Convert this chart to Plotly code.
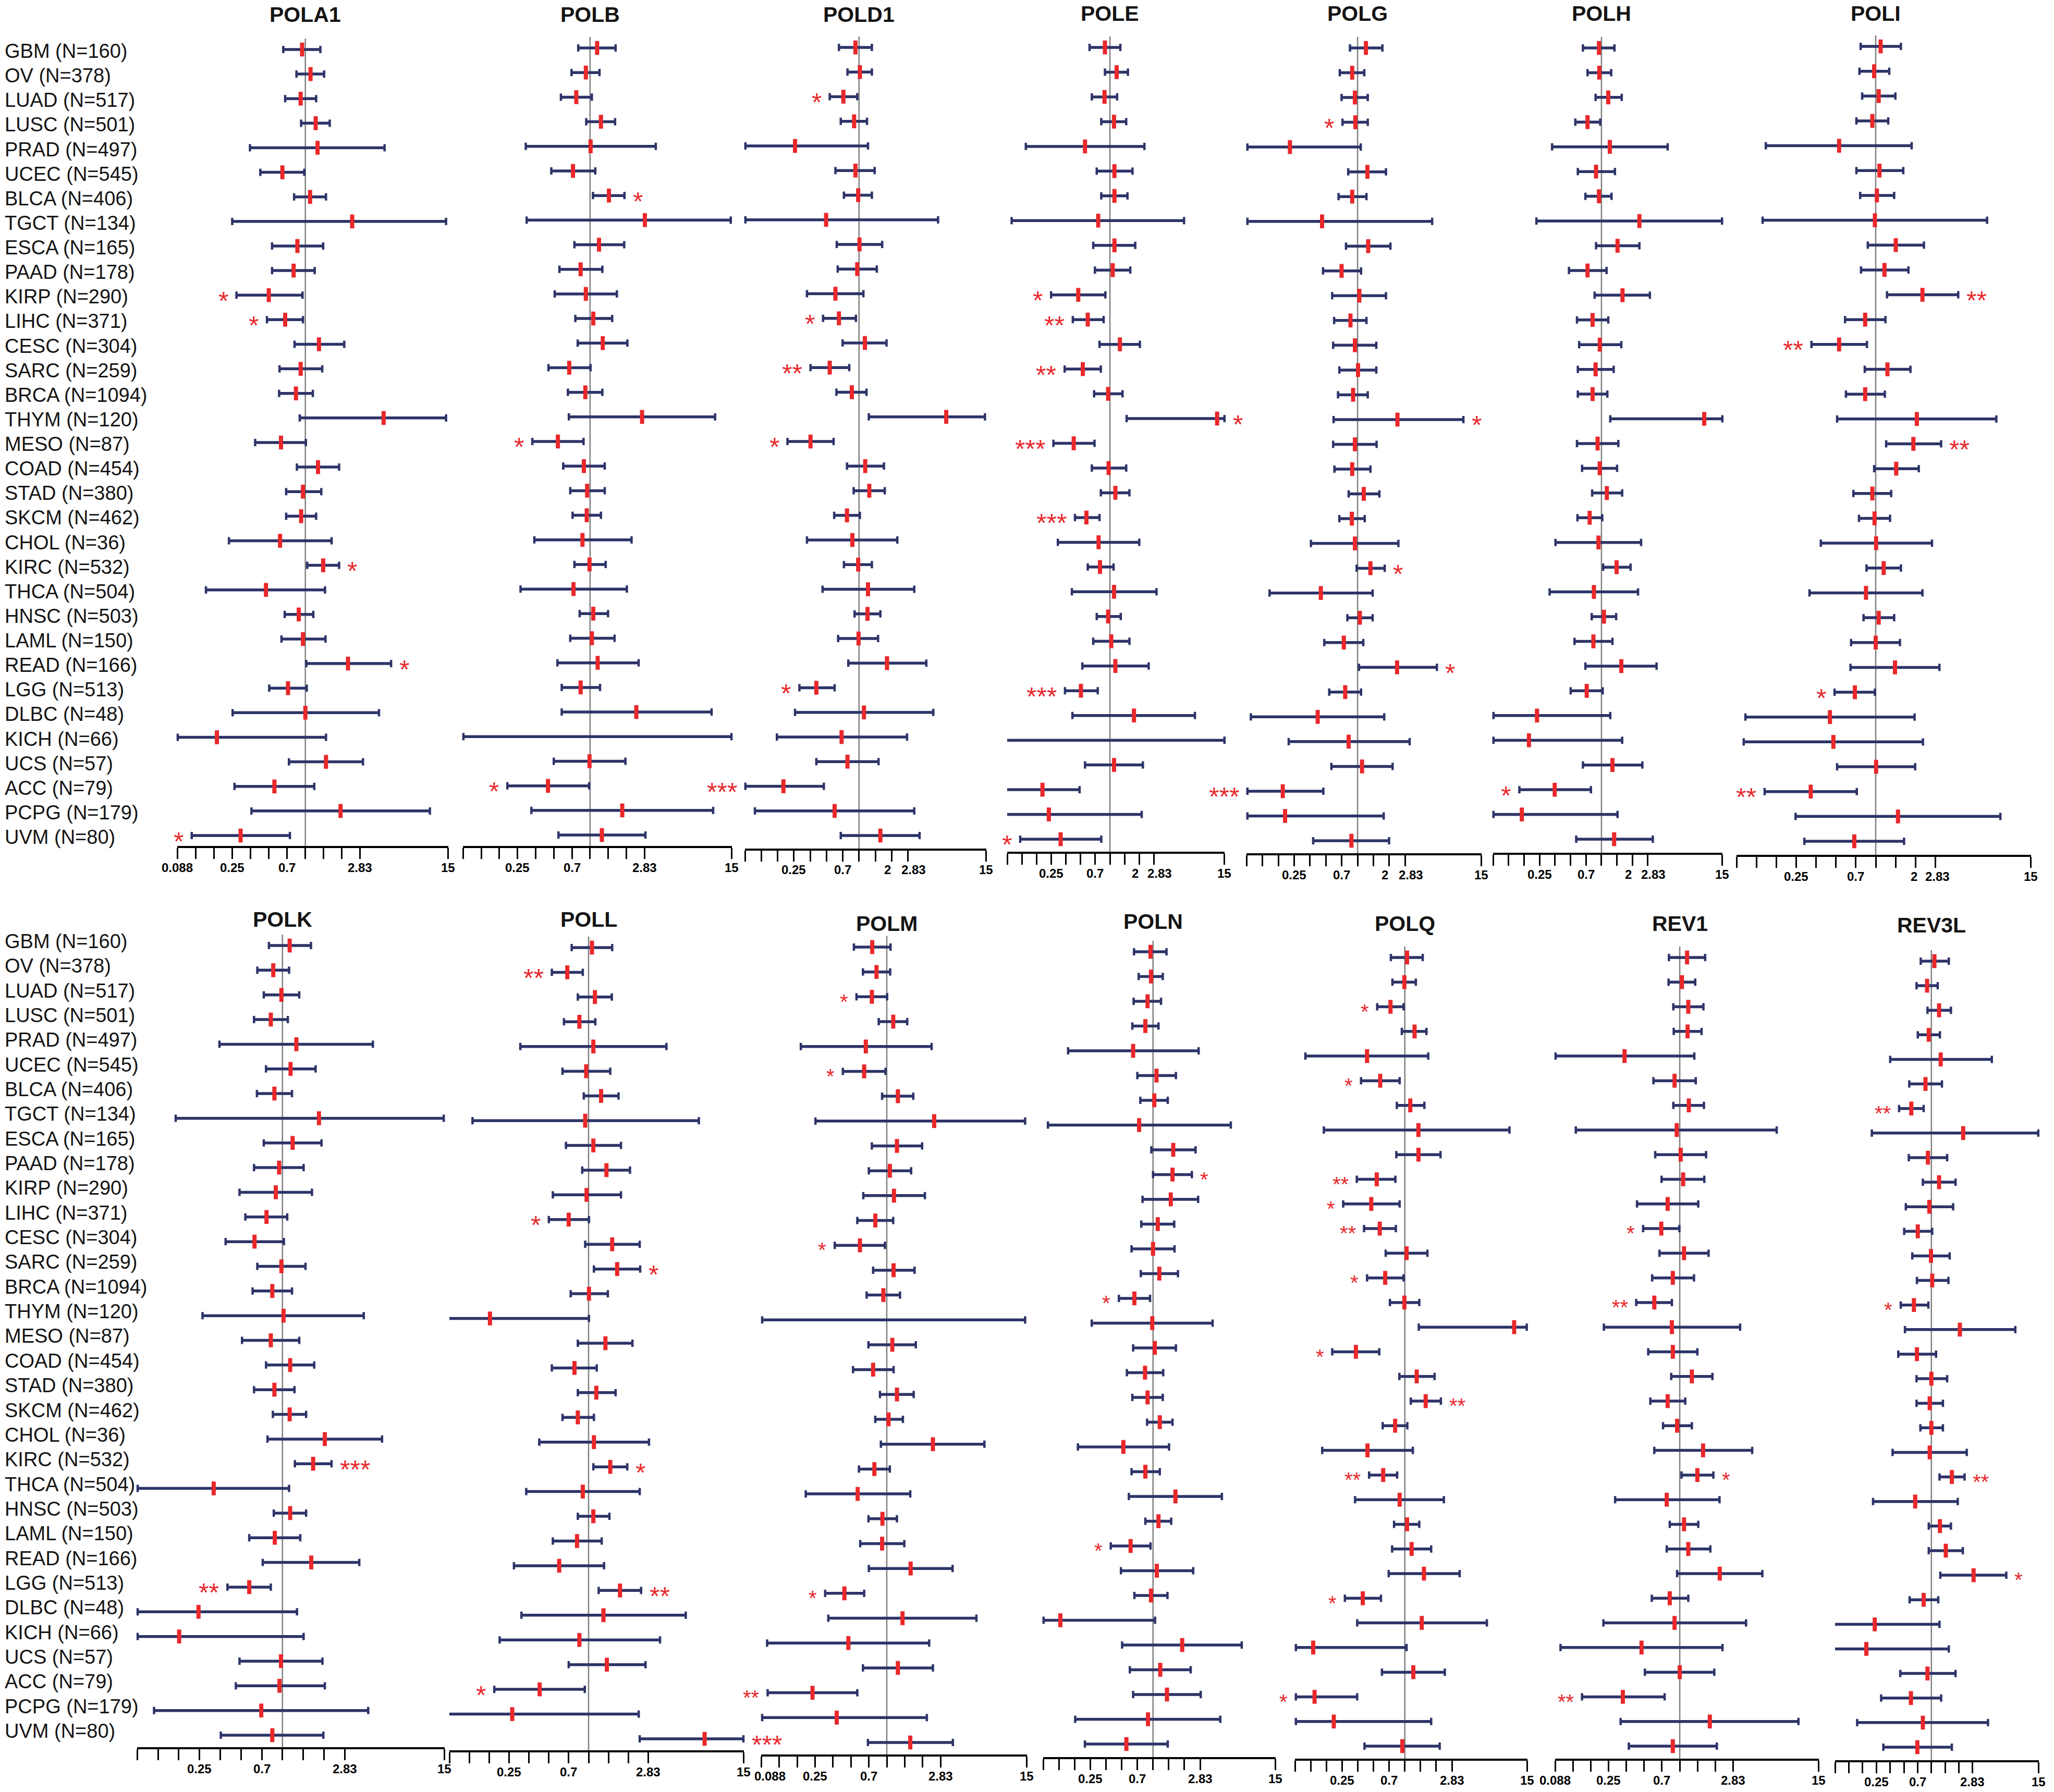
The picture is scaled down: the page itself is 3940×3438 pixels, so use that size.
import math
import plotly.graph_objects as go

# ---- data -------------------------------------------------------------
cancers = ["GBM", "OV", "LUAD", "LUSC", "PRAD", "UCEC", "BLCA", "TGCT", "ESCA", "PAAD", "KIRP",
           "LIHC", "CESC", "SARC", "BRCA", "THYM", "MESO", "COAD", "STAD", "SKCM", "CHOL", "KIRC",
           "THCA", "HNSC", "LAML", "READ", "LGG", "DLBC", "KICH", "UCS", "ACC", "PCPG", "UVM"]
n_patients = [160, 378, 517, 501, 497, 545, 406, 134, 165, 178, 290,
              371, 304, 259, 1094, 120, 87, 454, 380, 462, 36, 532,
              504, 503, 150, 166, 513, 48, 66, 57, 79, 179, 80]

pola1_lo = [0.658, 0.845, 0.682, 0.923, 0.350, 0.426, 0.808, 0.250, 0.532, 0.532, 0.271,
            0.483, 0.815, 0.613, 0.608, 0.899, 0.386, 0.852, 0.695, 0.695, 0.235, 1.036,
            0.152, 0.676, 0.636, 1.018, 0.504, 0.252, 0.089, 0.733, 0.261, 0.360, 0.116]
pola1_hr = [0.940, 1.103, 0.915, 1.216, 1.260, 0.647, 1.093, 2.43, 0.860, 0.801, 0.500,
            0.682, 1.294, 0.915, 0.837, 4.41, 0.630, 1.271, 0.956, 0.923, 0.619, 1.402,
            0.474, 0.883, 0.956, 2.245, 0.720, 1.000, 0.187, 1.479, 0.556, 1.948, 0.293]
pola1_hi = [1.329, 1.427, 1.227, 1.587, 4.49, 0.980, 1.479, 14.4, 1.402, 1.194, 0.948,
            0.956, 2.091, 1.377, 1.153, 14.4, 1.010, 1.896, 1.353, 1.227, 1.645, 1.896,
            1.452, 1.163, 1.465, 5.08, 1.027, 4.04, 1.479, 2.98, 1.184, 10.6, 0.746]
pola1_sig = {"KIRP": "*", "LIHC": "*", "KIRC": "*", "READ": "*", "UVM": "*"}

polb_lo = [0.798, 0.702, 0.573, 0.930, 0.293, 0.477, 1.057, 0.298, 0.742, 0.557, 0.509,
           0.755, 0.790, 0.452, 0.655, 0.667, 0.332, 0.599, 0.685, 0.716, 0.345, 0.742,
           0.265, 0.820, 0.685, 0.536, 0.582, 0.582, 0.089, 0.500, 0.206, 0.326, 0.547]
polb_hr = [1.145, 0.923, 0.769, 1.231, 1.010, 0.722, 1.434, 2.85, 1.186, 0.835, 0.923,
           1.064, 1.275, 0.672, 0.914, 2.70, 0.541, 0.889, 0.946, 0.939, 0.865, 0.990,
           0.729, 1.064, 1.035, 1.157, 0.835, 2.42, None, 0.990, 0.448, 1.85, 1.253]
polb_hi = [1.63, 1.198, 1.035, 1.613, 3.51, 1.105, 1.93, 14.7, 1.92, 1.265, 1.67,
           1.526, 2.04, 1.010, 1.265, 10.9, 0.883, 1.324, 1.324, 1.231, 2.21, 1.347,
           2.02, 1.41, 1.597, 2.53, 1.21, 10.2, 14.9, 1.965, 0.983, 10.5, 2.88]
polb_sig = {"BLCA": "*", "MESO": "*", "ACC": "*"}

pold1_lo = [0.652, 0.782, 0.536, 0.678, 0.089, 0.605, 0.725, 0.089, 0.622, 0.635, 0.330,
            0.465, 0.705, 0.356, 0.618, 1.231, 0.218, 0.774, 0.892, 0.589, 0.330, 0.725,
            0.460, 0.910, 0.641, 0.796, 0.281, 0.256, 0.174, 0.403, 0.089, 0.109, 0.678]
pold1_hr = [0.927, 1.018, 0.717, 0.901, 0.256, 0.927, 0.982, 0.496, 1.010, 0.963, 0.605,
            0.652, 1.133, 0.536, 0.858, 6.4, 0.356, 1.141, 1.244, 0.774, 0.868, 0.982,
            1.21, 1.198, 0.990, 1.815, 0.403, 1.11, 0.690, 0.782, 0.200, 0.595, 1.575]
pold1_hi = [1.315, 1.315, 0.963, 1.185, 1.21, 1.395, 1.315, 5.38, 1.637, 1.46, 1.098,
            0.936, 1.796, 0.812, 1.173, 14.6, 0.582, 1.70, 1.73, 1.018, 2.26, 1.315,
            3.24, 1.575, 1.50, 4.19, 0.595, 4.86, 2.78, 1.515, 0.473, 3.24, 3.63]
pold1_sig = {"LUAD": "*", "LIHC": "*", "SARC": "**", "MESO": "*", "LGG": "*", "ACC": "***"}

pole_lo = [0.618, 0.889, 0.652, 0.815, 0.137, 0.732, 0.815, 0.098, 0.674, 0.702, 0.249,
           0.416, 0.782, 0.343, 0.688, 1.485, 0.263, 0.652, 0.807, 0.438, 0.292, 0.592,
           0.407, 0.732, 0.674, 0.521, 0.346, 0.412, 0.088, 0.555, 0.088, 0.088, 0.120]
pole_hr = [0.889, 1.173, 0.880, 1.102, 0.555, 1.113, 1.113, 0.758, 1.113, 1.068, 0.473,
           0.592, 1.266, 0.527, 0.959, 12.6, 0.425, 0.969, 1.137, 0.574, 0.765, 0.790,
           1.102, 0.959, 1.032, 1.137, 0.504, 1.765, None, 1.102, 0.203, 0.236, 0.312]
pole_hi = [1.279, 1.53, 1.185, 1.47, 2.26, 1.706, 1.515, 5.77, 1.82, 1.618, 0.898,
           0.862, 2.03, 0.807, 1.347, 15.0, 0.695, 1.47, 1.586, 0.782, 2.00, 1.09,
           3.01, 1.292, 1.586, 2.50, 0.750, 7.46, 15.0, 2.18, 0.488, 2.12, 0.815]
pole_sig = {"KIRP": "*", "LIHC": "**", "SARC": "**", "THYM": "*", "MESO": "***",
            "SKCM": "***", "LGG": "***", "ACC": "***", "UVM": "*"}

polg_lo = [0.847, 0.678, 0.705, 0.719, 0.090, 0.815, 0.660, 0.090, 0.776, 0.470, 0.574,
           0.599, 0.586, 0.671, 0.652, 0.592, 0.586, 0.603, 0.823, 0.671, 0.361, 0.980,
           0.146, 0.800, 0.483, 1.030, 0.538, 0.097, 0.222, 0.564, 0.090, 0.090, 0.379]
polg_hr = [1.20, 0.889, 0.943, 0.952, 0.228, 1.24, 0.889, 0.460, 1.261, 0.705, 1.039,
           0.856, 0.943, 1.010, 0.907, 2.39, 0.943, 0.889, 1.145, 0.882, 0.943, 1.324,
           0.448, 1.050, 0.740, 2.37, 0.763, 0.418, 0.823, 1.102, 0.195, 0.205, 0.874]
polg_hi = [1.72, 1.157, 1.249, 1.249, 1.072, 1.86, 1.214, 5.1, 2.05, 1.079, 1.86,
           1.214, 1.505, 1.505, 1.249, 10.1, 1.515, 1.324, 1.61, 1.169, 2.44, 1.81,
           1.39, 1.39, 1.133, 5.66, 1.079, 1.79, 3.12, 2.15, 0.473, 1.77, 1.99]
polg_sig = {"LUSC": "*", "THYM": "*", "KIRC": "*", "READ": "*", "ACC": "***"}

polh_lo = [0.660, 0.732, 0.877, 0.557, 0.331, 0.589, 0.698, 0.233, 0.886, 0.483, 0.858,
           0.578, 0.607, 0.589, 0.589, 1.218, 0.578, 0.648, 0.812, 0.584, 0.357, 1.039,
           0.313, 0.804, 0.547, 0.698, 0.502, 0.089, 0.089, 0.660, 0.159, 0.089, 0.568]
polh_hr = [0.946, 0.952, 1.165, 0.732, 1.206, 0.886, 0.946, 2.34, 1.434, 0.732, 1.602,
           0.820, 0.963, 0.877, 0.820, 10.0, 0.917, 0.963, 1.128, 0.768, 0.936, 1.404,
           0.844, 1.057, 0.835, 1.56, 0.719, 0.236, 0.197, 1.279, 0.351, 0.168, 1.328]
polh_hi = [1.338, 1.244, 1.575, 0.973, 4.41, 1.352, 1.253, 14.9, 2.34, 1.121, 2.96,
           1.165, 1.56, 1.315, 1.141, 15.0, 1.46, 1.419, 1.59, 1.018, 2.43, 1.92,
           2.27, 1.39, 1.279, 3.44, 1.028, 1.218, 1.59, 2.50, 0.790, 1.434, 3.16]
polh_sig = {"ACC": "*"}

poli_lo = [0.769, 0.753, 0.790, 0.714, 0.147, 0.714, 0.763, 0.139, 0.871, 0.774, 1.218,
           0.586, 0.326, 0.826, 0.595, 0.510, 1.200, 0.973, 0.678, 0.747, 0.384, 0.852,
           0.315, 0.809, 0.651, 0.644, 0.488, 0.103, 0.100, 0.510, 0.144, 0.247, 0.288]
poli_hr = [1.090, 0.973, 1.053, 0.943, 0.528, 1.068, 1.021, 0.986, 1.419, 1.165, 2.26,
           0.832, 0.528, 1.227, 0.832, 2.05, 1.93, 1.43, 0.943, 0.980, 1.007, 1.149,
           0.844, 1.053, 1.000, 1.40, 0.695, 0.450, 0.478, 1.007, 0.322, 1.475, 0.688]
poli_hi = [1.552, 1.266, 1.41, 1.244, 1.873, 1.618, 1.38, 6.98, 2.32, 1.77, 4.22,
           1.185, 0.858, 1.834, 1.173, 8.2, 3.13, 2.12, 1.31, 1.284, 2.67, 1.552,
           2.26, 1.38, 1.526, 3.04, 0.986, 1.97, 2.28, 1.99, 0.719, 8.8, 1.64]
poli_sig = {"KIRP": "**", "CESC": "**", "MESO": "**", "LGG": "*", "ACC": "**"}

polk_lo = [0.798, 0.657, 0.732, 0.622, 0.349, 0.760, 0.653, 0.168, 0.732, 0.622, 0.488,
           0.538, 0.387, 0.657, 0.607, 0.263, 0.509, 0.760, 0.622, 0.852, 0.779, 1.231,
           0.089, 0.865, 0.574, 0.719, 0.399, 0.089, 0.089, 0.488, 0.459, 0.117, 0.357]
polk_hr = [1.128, 0.858, 0.983, 0.823, 1.261, 1.145, 0.874, 1.84, 1.185, 0.946, 0.895,
           0.766, 0.627, 0.983, 0.844, 1.018, 0.823, 1.137, 0.874, 1.128, 2.03, 1.67,
           0.317, 1.137, 0.880, 1.618, 0.574, 0.246, 0.178, 0.976, 0.952, 0.702, 0.844]
polk_hi = [1.61, 1.117, 1.324, 1.094, 4.53, 1.74, 1.173, 14.8, 1.92, 1.424, 1.637,
           1.083, 1.025, 1.47, 1.173, 3.89, 1.324, 1.70, 1.223, 1.485, 5.28, 2.27,
           1.117, 1.485, 1.347, 3.61, 0.823, 1.275, 1.424, 1.95, 2.03, 4.19, 1.98]
polk_sig = {"KIRC": "***", "LGG": "**"}

poll_lo = [0.745, 0.527, 0.829, 0.651, 0.304, 0.635, 0.920, 0.132, 0.674, 0.895, 0.536,
           0.500, 0.943, 1.098, 0.732, 0.088, 0.829, 0.527, 0.829, 0.635, 0.423, 1.087,
           0.337, 0.829, 0.536, 0.272, 1.193, 0.310, 0.212, 0.707, 0.193, 0.088, 2.44]
poll_hr = [1.061, 0.690, 1.117, 0.852, 1.087, 0.959, 1.244, 0.943, 1.087, 1.366, 0.966,
           0.707, 1.51, 1.647, 1.007, 0.179, 1.342, 0.782, 1.145, 0.829, 1.098, 1.46,
           0.904, 1.087, 0.818, 0.599, 1.73, 1.297, 0.852, 1.376, 0.426, 0.264, 7.57]
poll_hi = [1.51, 0.904, 1.50, 1.125, 3.89, 1.46, 1.687, 6.85, 1.76, 2.06, 1.76,
           1.007, 2.44, 2.46, 1.40, 1.007, 2.15, 1.153, 1.602, 1.098, 2.87, 1.965,
           2.44, 1.439, 1.257, 1.31, 2.50, 5.45, 3.48, 2.70, 0.936, 2.40, 14.9]
poll_sig = {"OV": "**", "LIHC": "*", "SARC": "*", "KIRC": "*", "LGG": "**", "ACC": "*", "UVM": "***"}

polm_lo = [0.530, 0.631, 0.557, 0.856, 0.190, 0.428, 0.914, 0.252, 0.750, 0.707, 0.635,
           0.566, 0.366, 0.768, 0.678, 0.090, 0.702, 0.521, 0.877, 0.801, 0.892, 0.584,
           0.209, 0.702, 0.599, 0.707, 0.304, 0.323, 0.099, 0.631, 0.100, 0.090, 0.695]
polm_hr = [0.755, 0.820, 0.750, 1.133, 0.667, 0.646, 1.24, 2.50, 1.218, 1.061, 1.149,
           0.801, 0.595, 1.141, 0.936, None, 1.113, 0.768, 1.218, 1.035, 2.44, 0.787,
           0.570, 0.920, 0.914, 1.586, 0.441, 1.356, 0.476, 1.24, 0.238, 0.380, 1.575]
polm_hi = [1.076, 1.068, 1.007, 1.485, 2.38, 0.976, 1.67, 14.5, 1.98, 1.602, 2.09,
           1.133, 0.966, 1.712, 1.292, 14.5, 1.754, 1.141, 1.682, 1.366, 6.6, 1.061,
           1.575, 1.218, 1.404, 3.57, 0.646, 5.66, 2.27, 2.44, 0.566, 2.17, 3.59]
polm_sig = {"LUAD": "*", "UCEC": "*", "CESC": "*", "LGG": "*", "ACC": "**"}

poln_lo = [0.657, 0.728, 0.651, 0.633, 0.153, 0.707, 0.755, 0.098, 0.963, 1.000, 0.793,
           0.771, 0.622, 0.763, 0.470, 0.258, 0.644, 0.561, 0.633, 0.877, 0.190, 0.622,
           0.586, 0.844, 0.393, 0.492, 0.662, 0.089, 0.505, 0.599, 0.644, 0.179, 0.222]
poln_hr = [0.946, 0.956, 0.886, 0.844, 0.644, 1.079, 1.028, 0.735, 1.563, 1.538, 1.48,
           1.11, 1.000, 1.149, 0.662, 0.983, 1.039, 0.838, 0.886, 1.161, 0.519, 0.844,
           1.642, 1.128, 0.609, 1.087, 0.956, 0.129, 1.905, 1.173, 1.361, 0.895, 0.555]
poln_hi = [1.347, 1.24, 1.193, 1.128, 2.74, 1.658, 1.385, 5.58, 2.56, 2.36, 2.71,
           1.597, 1.608, 1.735, 0.936, 3.73, 1.658, 1.253, 1.24, 1.538, 1.424, 1.161,
           4.58, 1.495, 0.946, 2.43, 1.376, 1.046, 7.1, 2.30, 2.87, 4.42, 1.385]
poln_sig = {"PAAD": "*", "BRCA": "*", "LAML": "*"}

polq_lo = [0.735, 0.760, 0.543, 0.936, 0.111, 0.380, 0.838, 0.167, 0.829, 0.346, 0.256,
           0.406, 0.655, 0.434, 0.719, 1.361, 0.201, 0.886, 1.141, 0.613, 0.161, 0.454,
           0.333, 0.788, 0.755, 0.700, 0.266, 0.349, 0.090, 0.603, 0.090, 0.090, 0.410]
polq_hr = [1.050, 0.990, 0.728, 1.24, 0.434, 0.580, 1.128, 1.35, 1.352, 0.538, 0.476,
           0.574, 1.039, 0.648, 0.990, 11.2, 0.339, 1.301, 1.586, 0.807, 0.438, 0.620,
           0.892, 1.050, 1.161, 1.526, 0.395, 1.454, 0.132, 1.206, 0.136, 0.208, 0.946]
polq_hi = [1.485, 1.275, 0.973, 1.613, 1.677, 0.892, 1.54, 10.1, 2.20, 0.812, 0.892,
           0.820, 1.647, 0.973, 1.376, 14.8, 0.568, 1.93, 2.22, 1.057, 1.193, 0.844,
           2.37, 1.376, 1.79, 3.36, 0.590, 6.13, 1.039, 2.42, 0.349, 1.79, 2.16]
polq_sig = {"LUAD": "*", "UCEC": "*", "PAAD": "**", "KIRP": "*", "LIHC": "**", "SARC": "*",
            "MESO": "*", "STAD": "**", "KIRC": "**", "LGG": "*", "ACC": "*"}

rev1_lo = [0.810, 0.804, 0.882, 0.889, 0.089, 0.599, 0.882, 0.132, 0.620, 0.702, 0.435,
           0.490, 0.674, 0.584, 0.428, 0.228, 0.541, 0.847, 0.564, 0.722, 0.609, 1.035,
           0.284, 0.823, 0.776, 0.950, 0.580, 0.226, 0.098, 0.507, 0.149, 0.316, 0.371]
rev1_hr = [1.153, 1.043, 1.181, 1.165, 0.341, 0.904, 1.193, 0.943, 1.018, 1.068, 0.790,
           0.698, 1.087, 0.874, 0.609, 0.858, 0.874, 1.266, 0.790, 0.950, 1.575, 1.41,
           0.776, 1.087, 1.181, 2.18, 0.823, 0.904, 0.475, 1.000, 0.330, 1.796, 0.874]
rev1_hi = [1.64, 1.352, 1.586, 1.53, 1.328, 1.366, 1.602, 6.61, 1.67, 1.613, 1.434,
           0.993, 1.754, 1.32, 0.858, 3.24, 1.41, 1.89, 1.113, 1.266, 4.1, 1.925,
           2.17, 1.434, 1.815, 5.0, 1.181, 3.64, 2.30, 1.96, 0.745, 10.1, 2.06]
rev1_sig = {"LIHC": "*", "BRCA": "**", "KIRC": "*", "ACC": "**"}

rev3l_lo = [0.765, 0.688, 0.907, 0.710, 0.354, 0.573, 0.443, 0.223, 0.566, 0.807, 0.525,
            0.504, 0.618, 0.695, 0.462, 0.514, 0.434, 0.688, 0.688, 0.758, 0.376, 1.227,
            0.230, 0.936, 0.936, 1.253, 0.578, 0.088, 0.088, 0.457, 0.282, 0.154, 0.298]
rev3l_hr = [1.079, 0.898, 1.214, 0.936, 1.266, 0.862, 0.603, 2.23, 0.917, 1.214, 0.950,
            0.710, 0.990, 1.021, 0.644, 2.05, 0.695, 1.000, 0.959, 1.000, 0.959, 1.676,
            0.665, 1.24, 1.439, 2.90, 0.823, 0.240, 0.194, 0.907, 0.597, 0.807, 0.702]
rev3l_hi = [1.552, 1.173, 1.637, 1.24, 4.59, 1.306, 0.823, 14.8, 1.489, 1.84, 1.73,
            1.021, 1.586, 1.538, 0.927, 8.3, 1.125, 1.489, 1.338, 1.338, 2.44, 2.31,
            1.945, 1.637, 2.21, 6.61, 1.189, 1.227, 1.552, 1.84, 1.279, 4.17, 1.676]
rev3l_sig = {"BLCA": "**", "BRCA": "*", "KIRC": "**", "READ": "*"}

# tick marks: every half power of two from 0.088 to 2.83, plus 15
tick_vals = [2 ** (k / 2) for k in range(-7, 4)] + [15.0]
# labelled ticks: (value, text, sideways nudge in px)
ticks_wide = [(2 ** -3.5, "0.088", 0), (0.25, "0.25", 0), (2 ** -0.5, "0.7", 0),
              (2 ** 1.5, "2.83", 0), (15.0, "15", 0)]
ticks_plain = ticks_wide[1:]
ticks_two = [(0.25, "0.25", 0), (2 ** -0.5, "0.7", 0), (2.0, "2", -8),
             (2 ** 1.5, "2.83", 11), (15.0, "15", 0)]
ticks_two_wide = [(0.25, "0.25", 0), (2 ** -0.5, "0.7", 0), (2.0, "2", -3),
                  (2 ** 1.5, "2.83", 4), (15.0, "15", 0)]
ticks_polm = [(2 ** -3.5, "0.088", 17)] + ticks_plain

panels = [
    ("POLA1", pola1_lo, pola1_hr, pola1_hi, pola1_sig, ticks_wide),
    ("POLB", polb_lo, polb_hr, polb_hi, polb_sig, ticks_plain),
    ("POLD1", pold1_lo, pold1_hr, pold1_hi, pold1_sig, ticks_two),
    ("POLE", pole_lo, pole_hr, pole_hi, pole_sig, ticks_two),
    ("POLG", polg_lo, polg_hr, polg_hi, polg_sig, ticks_two),
    ("POLH", polh_lo, polh_hr, polh_hi, polh_sig, ticks_two),
    ("POLI", poli_lo, poli_hr, poli_hi, poli_sig, ticks_two_wide),
    ("POLK", polk_lo, polk_hr, polk_hi, polk_sig, ticks_plain),
    ("POLL", poll_lo, poll_hr, poll_hi, poll_sig, ticks_plain),
    ("POLM", polm_lo, polm_hr, polm_hi, polm_sig, ticks_polm),
    ("POLN", poln_lo, poln_hr, poln_hi, poln_sig, ticks_plain),
    ("POLQ", polq_lo, polq_hr, polq_hi, polq_sig, ticks_plain),
    ("REV1", rev1_lo, rev1_hr, rev1_hi, rev1_sig, ticks_wide),
    ("REV3L", rev3l_lo, rev3l_hr, rev3l_hi, rev3l_sig, ticks_plain),
]

# ---- layout geometry (pixels) ------------------------------------------
W, H = 3940, 3438
# x of axis start, x of axis end, y of first row, y of last row, y of axis line, y of title, star size
frames = {
    "POLA1": (340, 860, 95, 1603, 1623, 28, 50),
    "POLB": (888, 1404, 92, 1602, 1623, 28, 50),
    "POLD1": (1429, 1892, 91, 1603, 1628, 28, 50),
    "POLE": (1932, 2349, 91, 1610, 1634, 26, 50),
    "POLG": (2391, 2842, 92, 1613, 1637, 26, 50),
    "POLH": (2864, 3304, 92, 1610, 1636, 26, 50),
    "POLI": (3331, 3896, 89, 1614, 1640, 26, 50),
    "POLK": (263, 853, 1814, 3329, 3352, 1764, 50),
    "POLL": (862, 1427, 1818, 3336, 3358, 1764, 50),
    "POLM": (1460, 1970, 1817, 3343, 3366, 1772, 40),
    "POLN": (2001, 2447, 1826, 3346, 3371, 1768, 40),
    "POLQ": (2484, 2930, 1837, 3350, 3374, 1772, 40),
    "REV1": (2983, 3489, 1837, 3350, 3374, 1772, 40),
    "REV3L": (3520, 3911, 1844, 3352, 3377, 1775, 40),
}

NAVY = "#2d3468"
RED = "#e8282b"
X_MIN, X_MAX = 2 ** -3.5, 15.0
TICK_FONT = dict(family="Liberation Sans Narrow, Arial Narrow, Liberation Sans",
                 size=24, color="black", weight="bold")

fig = go.Figure()
annotations = []
rows = list(range(len(cancers)))

for idx, (gene, lo, hr, hi, sig, tick_labels) in enumerate(panels):
    n = idx + 1
    xa, ya = f"x{n}", f"y{n}"
    x0, x1, ytop, ybot, yax, ytitle, star_size = frames[gene]
    sp = (ybot - ytop) / (len(cancers) - 1)
    r_top = -0.45
    r_bot = (len(cancers) - 1) + (yax - ybot) / sp
    dom_top = ytop + r_top * sp

    fig.layout[f"xaxis{n}"] = dict(
        type="log", range=[math.log10(X_MIN) - 0.001, math.log10(X_MAX) + 0.001],
        domain=[x0 / W, x1 / W], anchor=ya, showgrid=False, zeroline=False,
        showline=True, linecolor="black", linewidth=4,
        ticks="outside", ticklen=21, tickwidth=2.5, tickcolor="black",
        tickmode="array", tickvals=tick_vals, showticklabels=False,
        fixedrange=True, automargin=False,
    )
    fig.layout[f"yaxis{n}"] = dict(
        range=[r_bot, r_top], domain=[1 - yax / H, 1 - dom_top / H],
        anchor=xa, visible=False, fixedrange=True,
    )

    # tick labels below the axis
    for v, txt, nudge in tick_labels:
        annotations.append(dict(
            x=math.log10(v), y=1 - (yax + 41) / H, xref=xa, yref="paper", text=txt,
            showarrow=False, xanchor="center", yanchor="middle", xshift=nudge,
            font=TICK_FONT,
        ))

    # reference line at HR = 1
    fig.add_trace(go.Scatter(x=[1, 1], y=[r_top, r_bot], mode="lines",
                             line=dict(color="#7f7f7f", width=2.5),
                             xaxis=xa, yaxis=ya, hoverinfo="skip"))
    # confidence intervals
    cx, cy = [], []
    for i in rows:
        cx += [lo[i], hi[i], None]
        cy += [i, i, None]
    fig.add_trace(go.Scatter(x=cx, y=cy, mode="lines", line=dict(color=NAVY, width=5.5),
                             xaxis=xa, yaxis=ya, hoverinfo="skip"))
    fig.add_trace(go.Scatter(x=lo + hi, y=rows + rows, mode="markers", cliponaxis=False,
                             marker=dict(symbol="line-ns", size=10,
                                         line=dict(color=NAVY, width=4.5)),
                             xaxis=xa, yaxis=ya, hoverinfo="skip"))
    # hazard ratio
    hx = [hr[i] for i in rows if hr[i] is not None]
    hy = [i for i in rows if hr[i] is not None]
    fig.add_trace(go.Scatter(x=hx, y=hy, mode="markers", cliponaxis=False,
                             marker=dict(symbol="line-ns", size=19,
                                         line=dict(color=RED, width=8)),
                             xaxis=xa, yaxis=ya, hoverinfo="skip"))

    # significance stars
    for i, c in enumerate(cancers):
        s = sig.get(c)
        if not s:
            continue
        right = hr[i] is not None and hr[i] > 1
        annotations.append(dict(
            x=math.log10(hi[i] if right else lo[i]), y=i, xref=xa, yref=ya,
            text=s, showarrow=False, xanchor="left" if right else "right",
            xshift=14 if right else -14, yshift=-0.23 * star_size,
            font=dict(family="Liberation Sans", size=star_size, color=RED),
        ))

    # panel title over the HR = 1 line
    annotations.append(dict(
        x=0, y=1 - ytitle / H, xref=xa, yref="paper", text=f"<b>{gene}</b>",
        showarrow=False, xanchor="center", yanchor="middle",
        font=dict(family="Liberation Sans", size=41, color="#141414"),
    ))

# cancer labels on the left of each row of panels
for yref, shift in (("y1", -3), ("y8", 8)):
    for i, (c, npat) in enumerate(zip(cancers, n_patients)):
        annotations.append(dict(
            x=7 / W, y=i, xref="paper", yref=yref, text=f"{c} (N={npat})",
            showarrow=False, xanchor="left", yanchor="middle", yshift=shift,
            font=dict(family="Liberation Sans", size=38, color="#141414"),
        ))

fig.update_layout(
    width=W, height=H, autosize=False,
    margin=dict(l=0, r=0, t=0, b=0, pad=0, autoexpand=False),
    paper_bgcolor="white", plot_bgcolor="white",
    showlegend=False, annotations=annotations,
    font=dict(family="Liberation Sans"),
)

fig.write_html("out.html", config={"responsive": False, "displayModeBar": False},
               post_script="document.body.style.margin='0';")
